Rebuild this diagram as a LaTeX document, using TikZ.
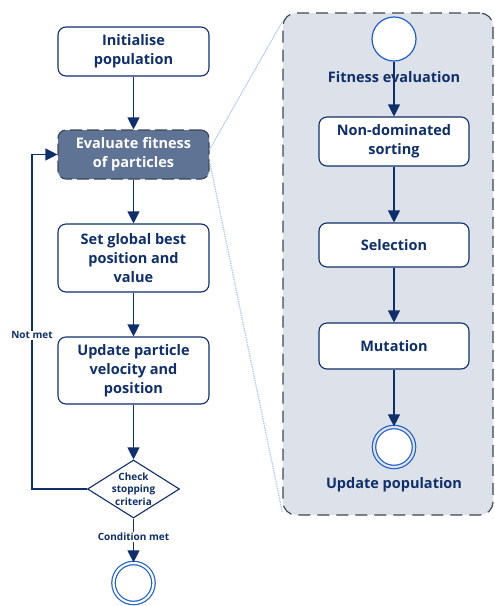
\documentclass[tikz,border=0pt]{standalone}
\usepackage{fontspec}
\setmainfont{Open Sans}
\usetikzlibrary{shapes.geometric,arrows.meta}
\definecolor{navy}{HTML}{0F2F6A}
\definecolor{slate}{HTML}{5F7394}
\definecolor{panelgrey}{HTML}{DDE1EA}
\definecolor{panelline}{HTML}{3B4657}
\definecolor{ringblue}{HTML}{1F5FC8}
\definecolor{zoomblue}{HTML}{AFC9F0}
\tikzset{
  stage/.style={draw=navy, line width=1.1pt, rounded corners=8pt, fill=white,
    text=navy, font=\bfseries\fontsize{14.5}{19}\selectfont, align=center,
    minimum width=151pt, inner sep=0pt},
  flow/.style={draw=navy, line width=1.1pt, -{Triangle[width=12pt,length=12pt]}},
  ring/.style={circle, draw=ringblue, line width=1.2pt, fill=white, minimum size=44pt, inner sep=0pt},
  endring/.style={ring, double=panelgrey, double distance=2.2pt, minimum size=40pt},
  tag/.style={text=navy, font=\bfseries\fontsize{14.5}{16}\selectfont},
  smalltag/.style={text=navy, font=\bfseries\fontsize{10}{12}\selectfont, fill=white, inner sep=1pt},
  zoomguide/.style={zoomblue, line width=1.3pt, densely dotted},
}
\begin{document}
\begin{tikzpicture}[y=1pt, x=1pt, yscale=-1]
\useasboundingbox (0,0) rectangle (495,606);
% sub-process panel
\node[draw=panelline, fill=panelgrey, line width=1.2pt, dash pattern=on 12pt off 7pt,
  rounded corners=13pt, minimum width=210pt, minimum height=502pt, inner sep=0pt] (panel) at (388,264) {};
% main loop
\node[stage, minimum height=49pt] (init) at (133.5,51.5) {Initialise\\population};
\node[stage, minimum height=49pt, fill=slate, text=white, draw=panelline, dash pattern=on 12pt off 5pt] (evalp) at (133.5,154.5) {Evaluate fitness\\of particles};
\node[stage, minimum height=68pt] (gbest) at (133.5,258) {Set global best\\position and\\value};
\node[stage, minimum height=67pt] (update) at (133.5,370.5) {Update particle\\velocity and\\position};
\node[diamond, draw=navy, line width=1.1pt, fill=white, text=navy, align=center,
  font=\bfseries\fontsize{10}{12.5}\selectfont, minimum width=92pt, minimum height=58pt,
  aspect=1.6, inner sep=-2pt] (check) at (133.5,489) {Check\\stopping\\criteria};
\node[endring, double=white] (finish) at (133.5,583) {};
\coordinate (bend) at (32,489);
\draw[flow] (init) -- (evalp);
\draw[flow] (evalp) -- (gbest);
\draw[flow] (gbest) -- (update);
\draw[flow] (update) -- (check);
\draw[flow] (check.west) -- (bend) |- node[smalltag, pos=0.23] {Not met} (evalp.west);
\draw[flow] (check) -- node[smalltag, pos=0.42] {Condition met} (finish);
% zoom guides
\draw[zoomguide] ([yshift=-5pt]evalp.east) -- ([yshift=9pt]panel.north west);
\draw[zoomguide] ([yshift=7pt]evalp.east) -- ([yshift=-3pt]panel.south west);
% fitness evaluation steps
\node[ring] (start) at (394,39) {};
\node[tag] (startlbl) at (394,77) {Fitness evaluation};
\node[stage, minimum width=150pt, minimum height=49pt] (sorting) at (394,141.5) {Non-dominated\\sorting};
\node[stage, minimum width=150pt, minimum height=44pt] (select) at (394,245) {Selection};
\node[stage, minimum width=150pt, minimum height=46pt] (mutate) at (394,346) {Mutation};
\node[endring] (stop) at (394,447) {};
\node[tag] (stoplbl) at (394,485) {Update population};
\draw[flow] (start) -- (sorting);
\draw[flow] (sorting) -- (select);
\draw[flow] (select) -- (mutate);
\draw[flow] (mutate) -- (stop);
\end{tikzpicture}
\end{document}
